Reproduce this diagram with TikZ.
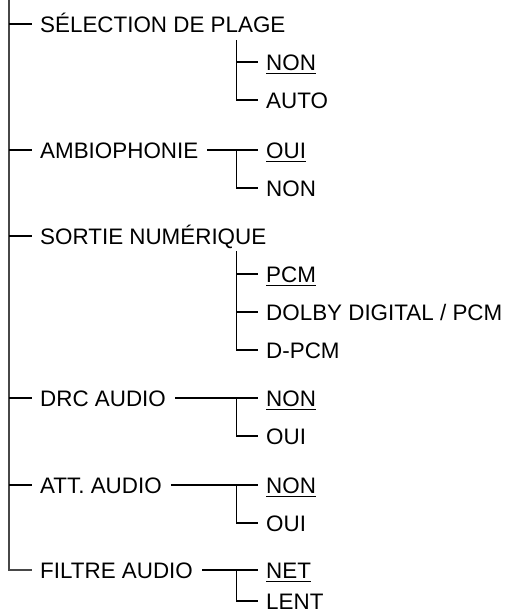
\documentclass[tikz,border=0pt]{standalone}
\usepackage{fontspec}
\setmainfont{Liberation Sans}
\begin{document}
\begin{tikzpicture}[x=1pt,y=-1pt]
\tikzset{
 lbl/.style={anchor=west, inner sep=0pt, text height=16pt, text depth=0pt, font=\fontsize{22.4}{26}\selectfont},
 trunk/.style={line width=2pt, draw=black!72},
 branch/.style={line width=1.2pt, draw=black},
 ul/.style={line width=1.1pt, draw=black},
}
\useasboundingbox (0,0) rectangle (507,616);
% labels
\node[lbl] (sel) at (40,24) {SÉLECTION DE PLAGE};
\node[lbl] (selnon) at (266,62) {NON};
\node[lbl] (selauto) at (266,100) {AUTO};
\node[lbl] (amb) at (40,150) {AMBIOPHONIE};
\node[lbl] (ambo) at (266,150) {OUI};
\node[lbl] (ambn) at (266,188) {NON};
\node[lbl] (sor) at (40,236) {SORTIE NUMÉRIQUE};
\node[lbl] (pcm) at (266,274) {PCM};
\node[lbl] (dolby) at (266,312) {DOLBY DIGITAL / PCM};
\node[lbl] (dpcm) at (266,350) {D-PCM};
\node[lbl] (drc) at (40,398) {DRC AUDIO};
\node[lbl] (drcn) at (266,398) {NON};
\node[lbl] (drco) at (266,436) {OUI};
\node[lbl] (att) at (40,485) {ATT. AUDIO};
\node[lbl] (attn) at (266,485) {NON};
\node[lbl] (atto) at (266,523) {OUI};
\node[lbl] (fil) at (40,570) {FILTRE AUDIO};
\node[lbl] (filn) at (266,570) {NET};
\node[lbl] (fill) at (266,601) {LENT};
% trunk
\coordinate (root) at (9,0);
\draw[trunk] (root) |- ([xshift=-8pt]fil.west);
\foreach \n in {sel,amb,sor,drc,att}{
  \draw[branch] (root |- \n.west) -- ([xshift=-8pt]\n.west);
}
% sub branches
\coordinate (sx) at (236.5,0);
\coordinate (s1) at (236.5,40);
\draw[branch] (s1) |- ([xshift=-8pt]selauto.west);
\draw[branch] (sx |- selnon.west) -- ([xshift=-8pt]selnon.west);
\coordinate (s2) at (236.5,251);
\draw[branch] (s2) |- ([xshift=-8pt]dpcm.west);
\draw[branch] (sx |- pcm.west) -- ([xshift=-8pt]pcm.west);
\draw[branch] (sx |- dolby.west) -- ([xshift=-8pt]dolby.west);
% two-way groups
\draw[branch] ([xshift=9pt]amb.east) -- ([xshift=-8pt]ambo.west);
\draw[branch] (sx |- ambo.west) |- ([xshift=-8pt]ambn.west);
\draw[branch] ([xshift=9pt]drc.east) -- ([xshift=-8pt]drcn.west);
\draw[branch] (sx |- drcn.west) |- ([xshift=-8pt]drco.west);
\draw[branch] ([xshift=9pt]att.east) -- ([xshift=-8pt]attn.west);
\draw[branch] (sx |- attn.west) |- ([xshift=-8pt]atto.west);
\draw[branch] ([xshift=9pt]fil.east) -- ([xshift=-8pt]filn.west);
\draw[branch] (sx |- filn.west) |- ([xshift=-8pt]fill.west);
% underlines (default settings)
\foreach \n in {selnon,ambo,pcm,drcn,attn,filn}{
  \draw[ul] ([yshift=-3.5pt]\n.south west) -- ([yshift=-3.5pt]\n.south east);
}
\end{tikzpicture}
\end{document}
